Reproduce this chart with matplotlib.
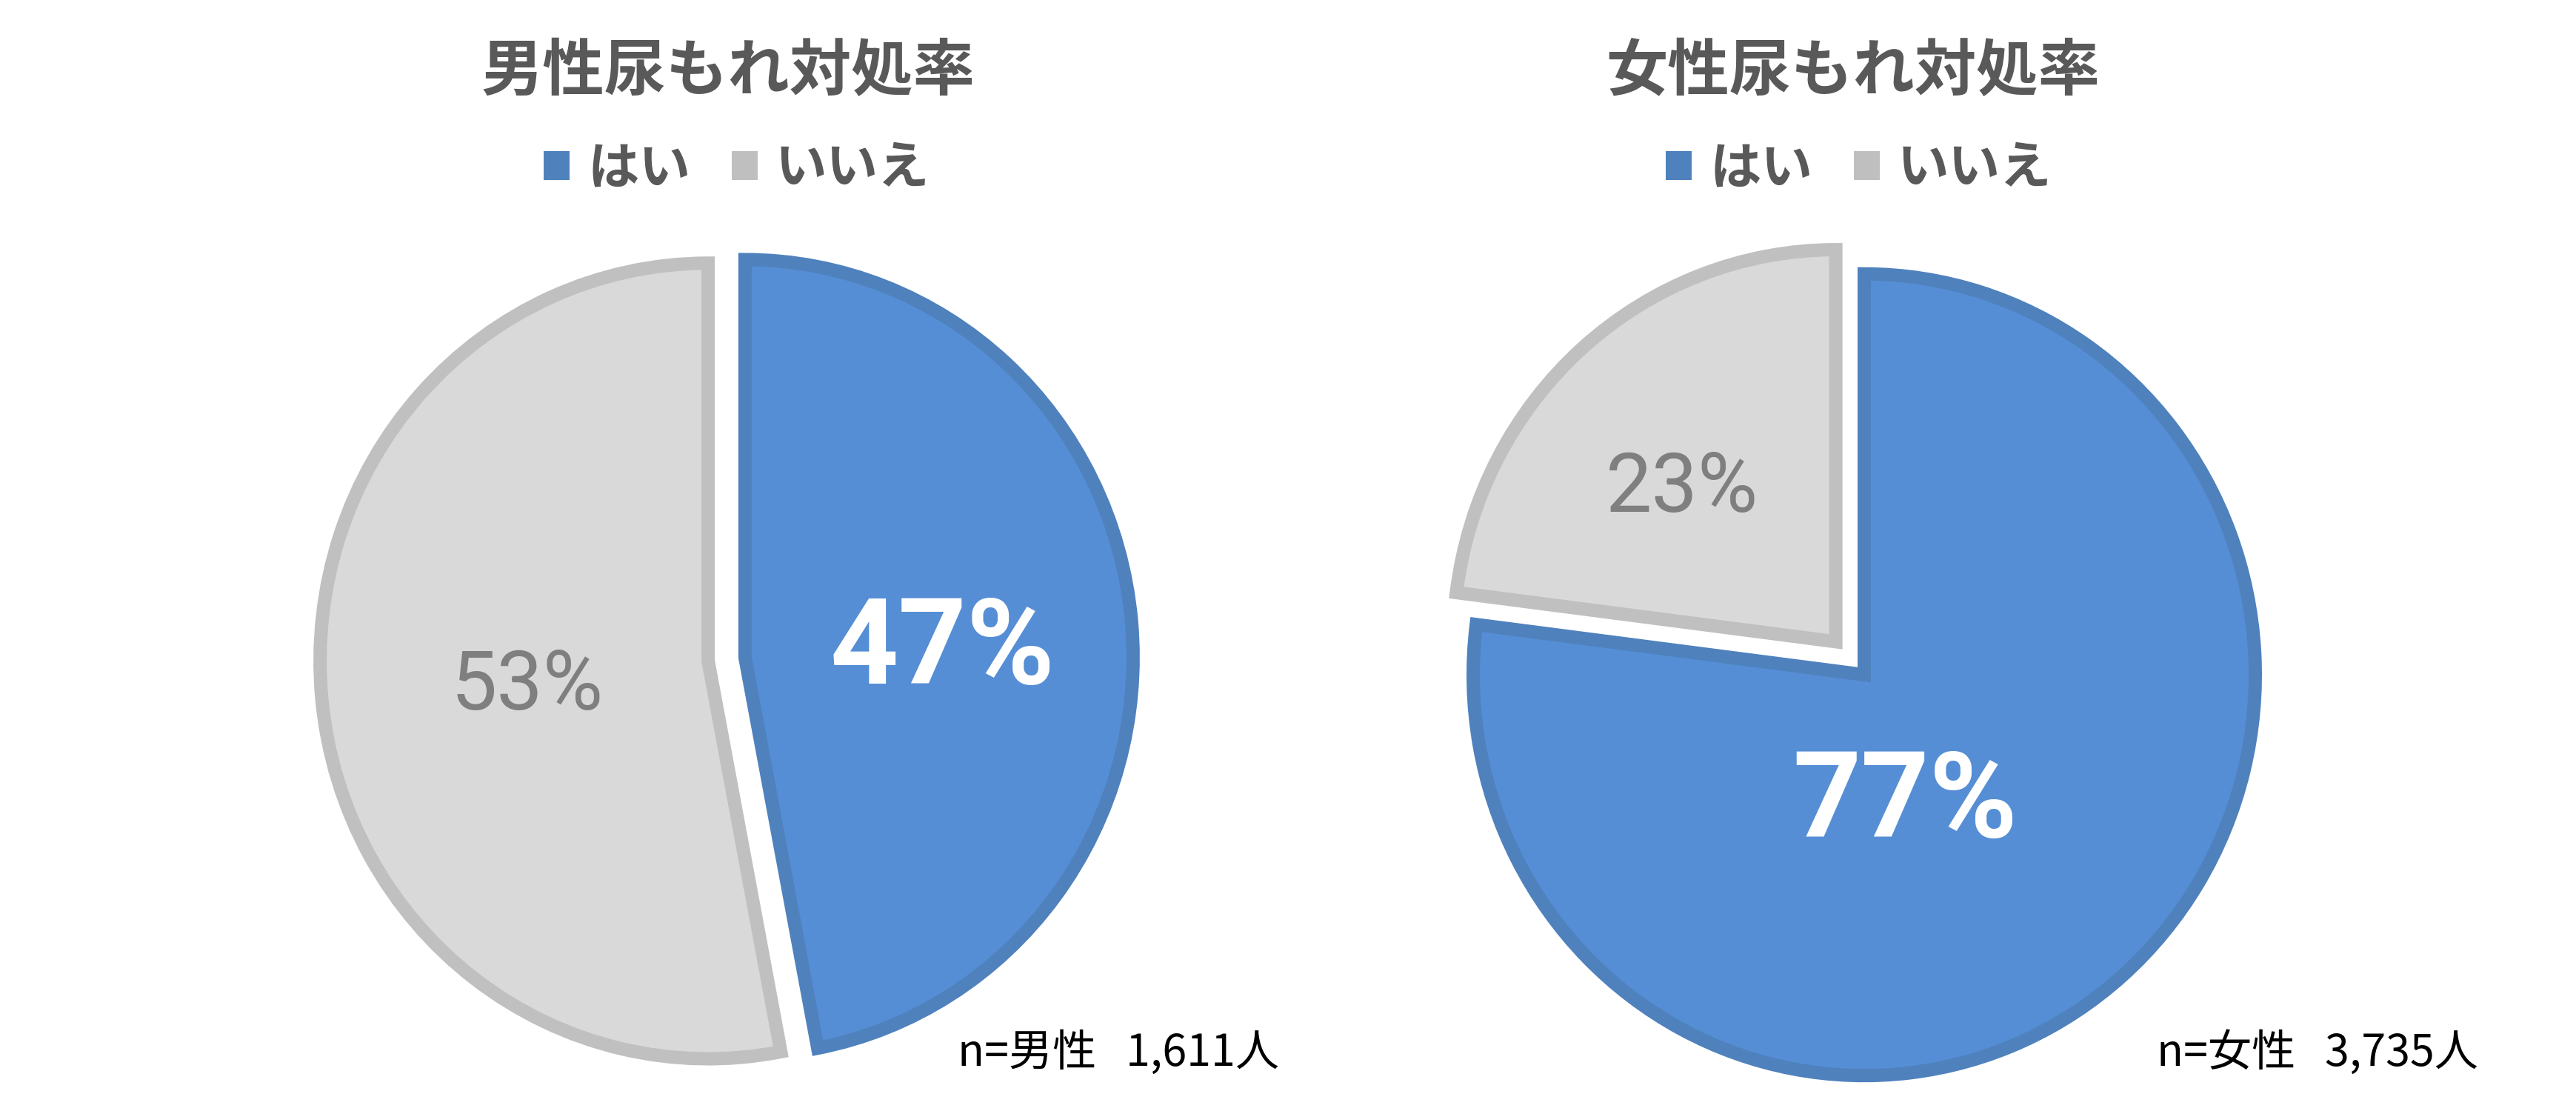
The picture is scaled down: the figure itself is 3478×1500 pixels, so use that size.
import matplotlib
matplotlib.use("Agg")
import matplotlib.pyplot as plt
from matplotlib.patches import Patch
import numpy as np

plt.rcParams['font.family'] = ['Noto Sans CJK JP', 'DejaVu Sans']

# ---- data ----
categories = ['はい', 'いいえ']
male_values = [47, 53]
female_values = [77, 23]
titles = ['男性尿もれ対処率', '女性尿もれ対処率']
sample_notes = ['n=男性   1,611人', 'n=女性   3,735人']

# ---- style ----
W, H, DPI = 3478, 1500, 200
S = 1.025  # slight vertical stretch of the original rendering
fill_colors = ['#558ED5', '#D9D9D9']
edge_colors = ['#4F81BD', '#C0C0C0']
legend_colors = ['#4F81BD', '#BFBFBF']
label_colors = ['white', '#7F7F7F']
label_weights = ['bold', 'normal']
label_sizes = [58, 40]
pct_family = ['Roboto', 'DejaVu Sans']
EDGE_LW = 18 * 72 / DPI

pies = [
    dict(values=male_values, center=(981, (H - 890) / S), radius=524,
         explode=[25, 25], radii_scale=[1.0, 1.0],
         label_pos=[(0.51, -3.7), (0.47, 2.5)],
         title_x=983, legend_x=995, note_x=1293),
    dict(values=female_values, center=(2517, (H - 911) / S), radius=528,
         explode=[0, 58], radii_scale=[1.0, 0.978],
         label_pos=[(0.34, -23.4), (0.56, 4.6)],
         title_x=2502, legend_x=2510, note_x=2912),
]

fig = plt.figure(figsize=(W / DPI, H / DPI), dpi=DPI)
ax = fig.add_axes([0, 0, 1, 1])

for i, p in enumerate(pies):
    wedges, _ = ax.pie(p['values'], colors=fill_colors, startangle=90,
                       counterclock=False, center=p['center'], radius=p['radius'],
                       explode=p['explode'],
                       wedgeprops=dict(linewidth=EDGE_LW))
    for j, w in enumerate(wedges):
        w.set_edgecolor(edge_colors[j])
        w.set_joinstyle('miter')
        w.set_radius(w.r * p['radii_scale'][j])
        frac, dang = p['label_pos'][j]
        ang = np.deg2rad((w.theta1 + w.theta2) / 2 + dang)
        cx, cy = w.center
        ax.text(cx + frac * w.r * np.cos(ang), cy + frac * w.r * np.sin(ang),
                f"{p['values'][j]}%", ha='center', va='center',
                color=label_colors[j], fontsize=label_sizes[j],
                fontweight=label_weights[j], family=pct_family)

    fig.text(p['title_x'] / W, 1 - 98 / H, titles[i], ha='center', va='center',
             fontsize=30, fontweight='bold', color='#595959')
    handles = [Patch(facecolor=c, edgecolor='none') for c in legend_colors]
    fig.legend(handles, categories, loc='center',
               bbox_to_anchor=(p['legend_x'] / W, 1 - 228 / H),
               bbox_transform=fig.transFigure, ncol=2, frameon=False,
               prop=dict(size=25, weight='bold'), labelcolor='#595959',
               handlelength=0.5, handleheight=0.5, handletextpad=0.35,
               columnspacing=0.8)
    fig.text(p['note_x'] / W, 1 - 1422 / H, sample_notes[i], ha='left',
             va='center', fontsize=21.3, color='black')

ax.set_aspect('auto')
ax.set_xlim(0, W)
ax.set_ylim(0, H / S)
ax.axis('off')

fig.savefig('out.png', dpi=DPI, facecolor='white')
